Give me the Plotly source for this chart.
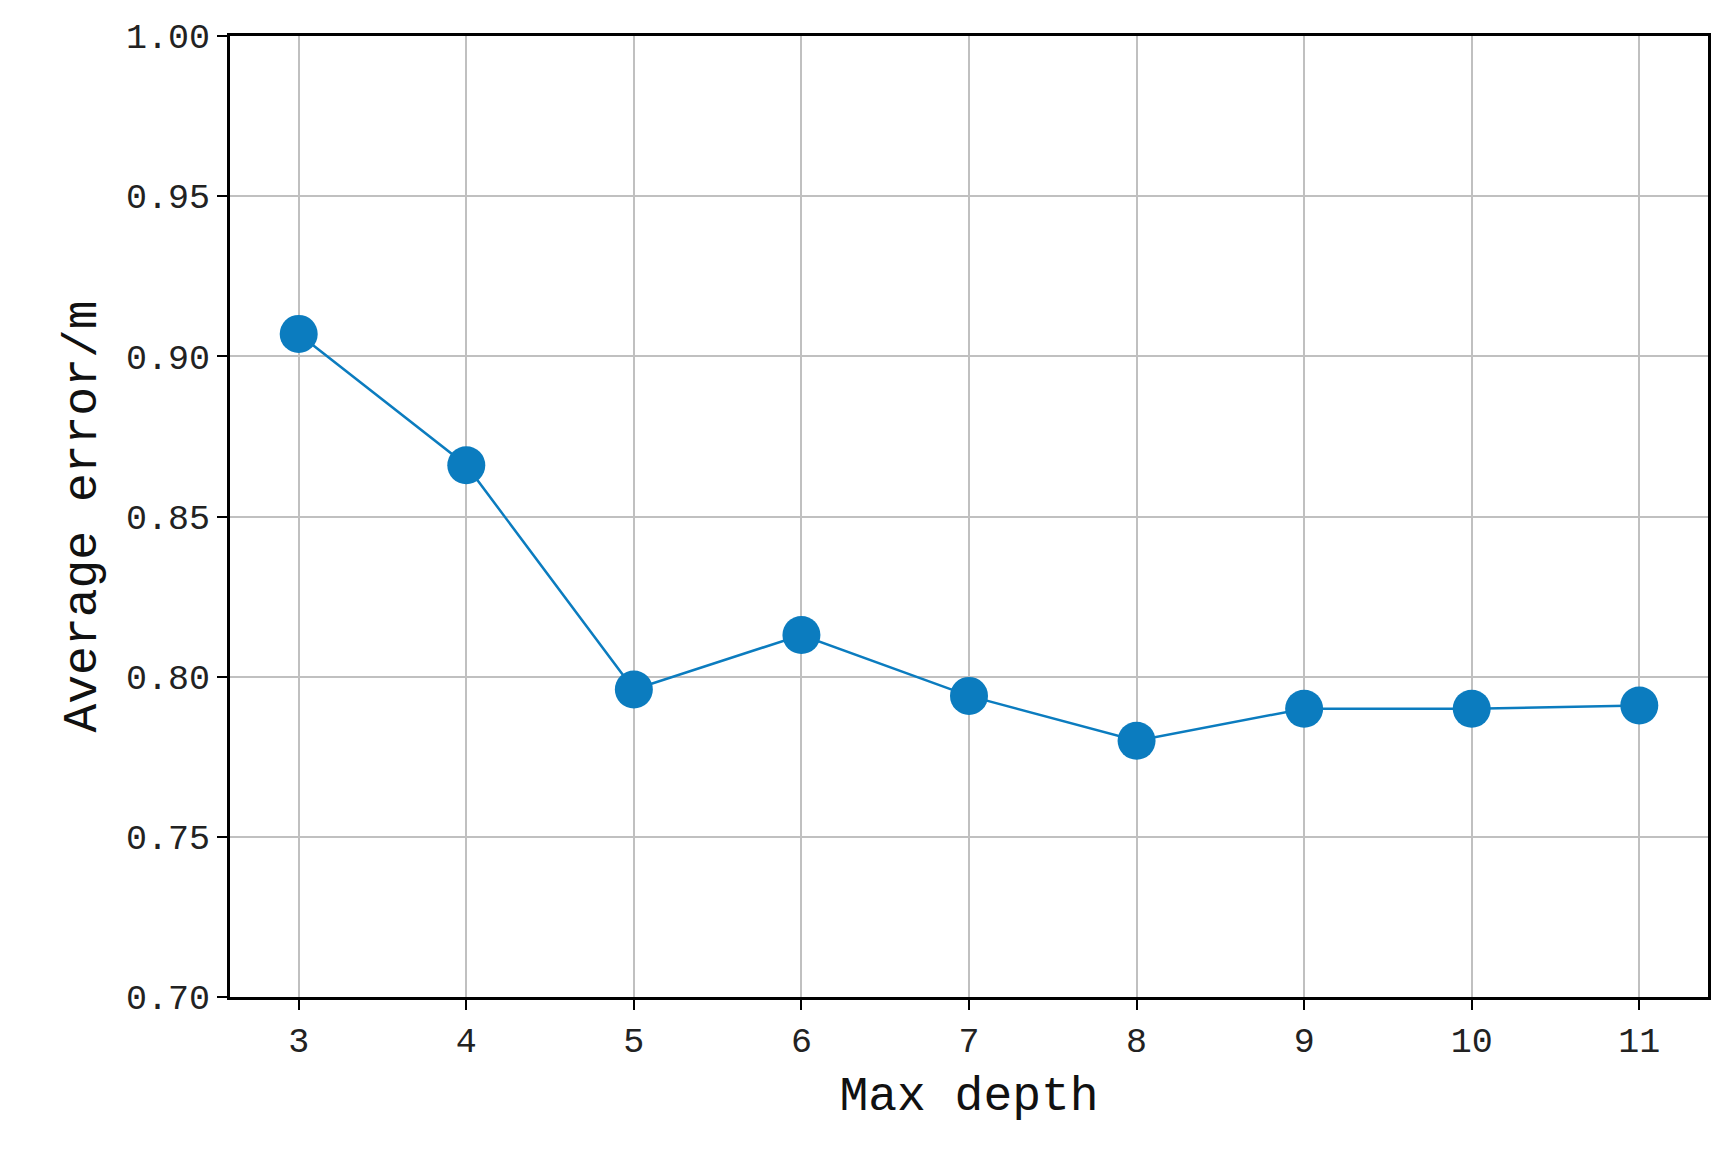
import plotly.graph_objects as go

max_depth = [3, 4, 5, 6, 7, 8, 9, 10, 11]
avg_error = [0.907, 0.866, 0.796, 0.813, 0.794, 0.780, 0.790, 0.790, 0.791]

fig = go.Figure()
fig.add_trace(go.Scatter(
    x=max_depth, y=avg_error, mode="lines+markers",
    line=dict(color="#0b7cbf", width=2.5),
    marker=dict(color="#0b7cbf", size=38),
))

font = "Liberation Mono, DejaVu Sans Mono, monospace"
axis_common = dict(showline=True, linecolor="black", linewidth=3, mirror=True,
                   showgrid=True, gridcolor="#c0c0c0", gridwidth=2,
                   ticks="outside", ticklen=10, tickwidth=2, tickcolor="black",
                   tickfont=dict(family=font, size=35, color="#222"), zeroline=False)

fig.update_xaxes(range=[2.59, 11.41], tickvals=max_depth,
                 title=dict(text="Max depth", font=dict(family=font, size=48, color="#111")),
                 **axis_common)
fig.update_yaxes(range=[0.70, 1.00], dtick=0.05, tickformat=".2f",
                 title=dict(text="Average error/m", font=dict(family=font, size=48, color="#111")),
                 **axis_common)
fig.update_layout(width=1732, height=1156, plot_bgcolor="white", paper_bgcolor="white",
                  showlegend=False, margin=dict(l=222, r=32, t=28, b=167))
fig.write_html("out.html")
